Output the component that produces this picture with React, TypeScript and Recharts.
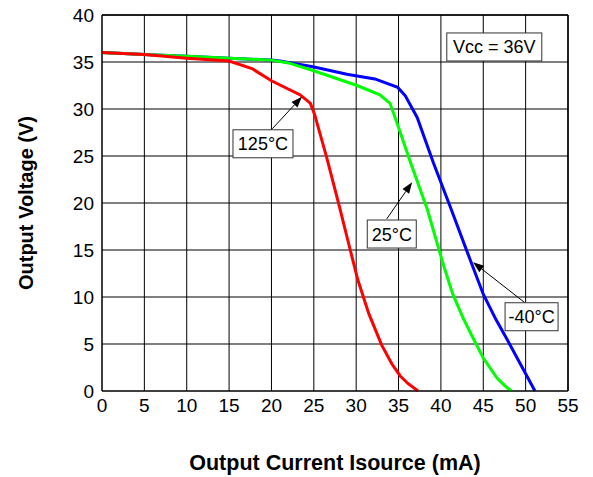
import React from 'react';
import {
  LineChart,
  Line,
  XAxis,
  YAxis,
  CartesianGrid,
  ReferenceLine,
  ReferenceDot,
  Label,
} from 'recharts';

// Output current (mA) / output voltage (V) pairs per temperature
const red125 = [
  [0, 36], [5, 35.8], [10, 35.4], [15, 35.1], [17.7, 34.3], [20, 33], [23.4, 31.5],
  [24.6, 30.6], [25.1, 29.4], [26.5, 24.9], [28, 19.7], [29.3, 15], [30.2, 11.8],
  [31.5, 8.2], [33, 4.9], [34.2, 2.9], [35.2, 1.6], [36.1, 0.8], [37.3, 0],
];
const green25 = [
  [0, 36], [5, 35.8], [10, 35.6], [15, 35.4], [20, 35.2], [22, 34.9], [24.9, 34.1],
  [27.5, 33.3], [30.1, 32.5], [32.8, 31.5], [34, 30.6], [34.9, 28.3], [36.3, 24.6],
  [38.4, 19.3], [40.3, 13.4], [41.4, 10.3], [42.6, 7.8], [43.7, 5.8], [45, 3.5],
  [46.6, 1.4], [47.5, 0.6], [48.3, 0],
];
const blueMinus40 = [
  [0, 36], [5, 35.8], [10, 35.6], [15, 35.4], [20, 35.2], [21, 35.1], [24.9, 34.5],
  [28.9, 33.7], [32.2, 33.2], [34.9, 32.3], [35.8, 31.4], [37.2, 29.1], [39.1, 24.3],
  [41.1, 19.6], [43.1, 14.8], [45, 10.3], [46.5, 7.6], [47.8, 5.5], [49.3, 3], [51.1, 0],
];

const xTicks = [0, 5, 10, 15, 20, 25, 30, 35, 40, 45, 50, 55];
const yTicks = [0, 5, 10, 15, 20, 25, 30, 35, 40];

// annotation boxes: label, box center (mA, V), arrow from -> to
const notes = [
  { text: '125°C', at: [19.0, 26.3], w: 60, from: [20.1, 27.9], to: [23.6, 31.3] },
  { text: '25°C', at: [34.2, 16.7], w: 49, from: [33.6, 18.3], to: [36.6, 22.2] },
  { text: '-40°C', at: [50.7, 7.9], w: 53, from: [49.9, 9.4], to: [43.8, 13.7] },
];
const vccNote = { text: 'Vcc = 36V', at: [46.3, 36.6], w: 95 };

const toRows = (pts: number[][]) => pts.map(([i, v]) => ({ i, v }));

const font = 'Arial, "Liberation Sans", sans-serif';

const Arrow = (p: any) => {
  const { x1, y1, x2, y2 } = p;
  if ([x1, y1, x2, y2].some((n) => typeof n !== 'number')) return null;
  const ang = Math.atan2(y2 - y1, x2 - x1);
  const len = 11;
  const half = 4;
  const bx = x2 - len * Math.cos(ang);
  const by = y2 - len * Math.sin(ang);
  const px = -Math.sin(ang) * half;
  const py = Math.cos(ang) * half;
  return (
    <g>
      <line x1={x1} y1={y1} x2={bx} y2={by} stroke="#000" strokeWidth={1} />
      <polygon
        points={`${x2},${y2} ${bx + px},${by + py} ${bx - px},${by - py}`}
        fill="#000"
      />
    </g>
  );
};

const boxShape = (text: string, w: number, h = 28) => (p: any) => {
  const { cx, cy } = p;
  return (
    <g>
      <rect x={cx - w / 2} y={cy - h / 2} width={w} height={h} fill="#fff" stroke="#333" strokeWidth={1} />
      <text x={cx} y={cy + 6.5} textAnchor="middle" fontSize={18} fontFamily={font} fill="#000">
        {text}
      </text>
    </g>
  );
};

const App: React.FC = () => {
  return (
    <div style={{ position: 'absolute', left: 0, top: 0, width: 593, height: 477, background: '#fff' }}>
      <LineChart width={593} height={477} margin={{ top: 15, right: 25, left: 0, bottom: 0 }}>
        <CartesianGrid stroke="#000" strokeWidth={1} />
        <XAxis
          type="number"
          dataKey="i"
          domain={[0, 55]}
          ticks={xTicks}
          interval={0}
          height={86}
          tickLine={false}
          axisLine={{ stroke: '#000' }}
          tick={{ fontSize: 19, fill: '#000', fontFamily: font }}
        >
          <Label
            value="Output Current Isource (mA)"
            position="center"
            dy={28}
            style={{ fontSize: 21.5, fontWeight: 'bold', fill: '#000', fontFamily: font }}
          />
        </XAxis>
        <YAxis
          type="number"
          domain={[0, 40]}
          ticks={yTicks}
          interval={0}
          width={102}
          tickLine={false}
          axisLine={{ stroke: '#000' }}
          tick={{ fontSize: 19, fill: '#000', fontFamily: font }}
        >
          <Label
            value="Output Voltage (V)"
            position="center"
            angle={-90}
            dx={-25}
            style={{ fontSize: 20, fontWeight: 'bold', fill: '#000', fontFamily: font, textAnchor: 'middle' }}
          />
        </YAxis>
        <ReferenceLine
          segment={[{ x: 55, y: 0 }, { x: 55, y: 40 }]}
          stroke="#000"
          strokeWidth={1.5}
        />
        <ReferenceLine
          segment={[{ x: 0, y: 40 }, { x: 55, y: 40 }]}
          stroke="#000"
          strokeWidth={1.5}
        />
        <Line
          data={toRows(blueMinus40)}
          dataKey="v"
          type="linear"
          stroke="#0000ff"
          strokeWidth={3}
          dot={false}
          isAnimationActive={false}
        />
        <Line
          data={toRows(green25)}
          dataKey="v"
          type="linear"
          stroke="#00ff00"
          strokeWidth={3}
          dot={false}
          isAnimationActive={false}
        />
        <Line
          data={toRows(red125)}
          dataKey="v"
          type="linear"
          stroke="#ff0000"
          strokeWidth={3}
          dot={false}
          isAnimationActive={false}
        />
        {notes.map((n) => (
          <ReferenceLine
            key={'a' + n.text}
            segment={[{ x: n.from[0], y: n.from[1] }, { x: n.to[0], y: n.to[1] }]}
            shape={(p: any) => <Arrow {...p} />}
          />
        ))}
        {notes.map((n) => (
          <ReferenceDot key={'b' + n.text} x={n.at[0]} y={n.at[1]} shape={boxShape(n.text, n.w)} />
        ))}
        <ReferenceDot x={vccNote.at[0]} y={vccNote.at[1]} shape={boxShape(vccNote.text, vccNote.w)} />
      </LineChart>
    </div>
  );
};

export default App;
